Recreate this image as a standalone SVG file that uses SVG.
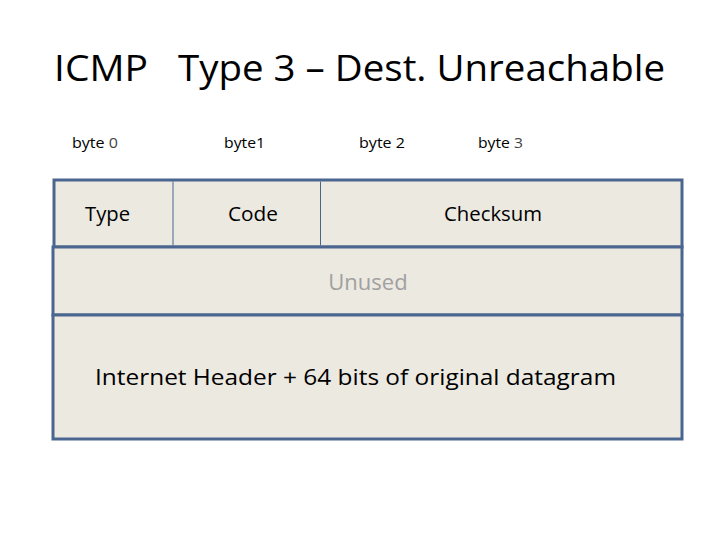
<svg xmlns="http://www.w3.org/2000/svg" width="720" height="540" viewBox="0 0 720 540">
<style>
.t{font-family:"Open Sans","Liberation Sans",sans-serif;fill:#000}
.cell{fill:#ece9e1;stroke:#4a6690;stroke-width:3}
.div{stroke:#4a6690;stroke-width:1}
</style>
<rect width="720" height="540" fill="#fff"/>
<g id="title" font-size="36">
<text class="t" x="54" y="81" textLength="94" lengthAdjust="spacingAndGlyphs">ICMP</text>
<text class="t" x="178" y="81" textLength="487" lengthAdjust="spacingAndGlyphs">Type 3 – Dest. Unreachable</text>
</g>
<g id="byte-labels" font-size="14">
<text class="t" x="72" y="148" textLength="46" lengthAdjust="spacingAndGlyphs">byte <tspan fill="#444">0</tspan></text>
<text class="t" x="224" y="148" textLength="41" lengthAdjust="spacingAndGlyphs">byte1</text>
<text class="t" x="359" y="148" textLength="46" lengthAdjust="spacingAndGlyphs">byte 2</text>
<text class="t" x="478" y="148" textLength="45" lengthAdjust="spacingAndGlyphs">byte <tspan fill="#444">3</tspan></text>
</g>
<g id="row1">
<rect class="cell" x="54" y="180" width="628" height="67"/>
</g>
<g id="row2">
<rect class="cell" x="53" y="247" width="629" height="68"/>
</g>
<g id="row3">
<rect class="cell" x="53" y="315" width="629" height="124"/>
</g>
<g id="dividers">
<line class="div" x1="173" y1="181.5" x2="173" y2="245.5"/>
<line class="div" x1="320.5" y1="181.5" x2="320.5" y2="245.5"/>
</g>
<g id="type"><text class="t" x="107.5" y="221" font-size="20" text-anchor="middle" textLength="45" lengthAdjust="spacingAndGlyphs">Type</text></g>
<g id="code"><text class="t" x="253" y="221" font-size="20" text-anchor="middle" textLength="50" lengthAdjust="spacingAndGlyphs">Code</text></g>
<g id="checksum"><text class="t" x="493" y="221" font-size="20" text-anchor="middle" textLength="98" lengthAdjust="spacingAndGlyphs">Checksum</text></g>
<g id="unused"><text class="t" x="368" y="290" font-size="22" text-anchor="middle" style="fill:#a0a0a0">Unused</text></g>
<g id="payload"><text class="t" x="355.5" y="385" font-size="22" text-anchor="middle" textLength="521" lengthAdjust="spacingAndGlyphs">Internet Header + 64 bits of original datagram</text></g>
</svg>
